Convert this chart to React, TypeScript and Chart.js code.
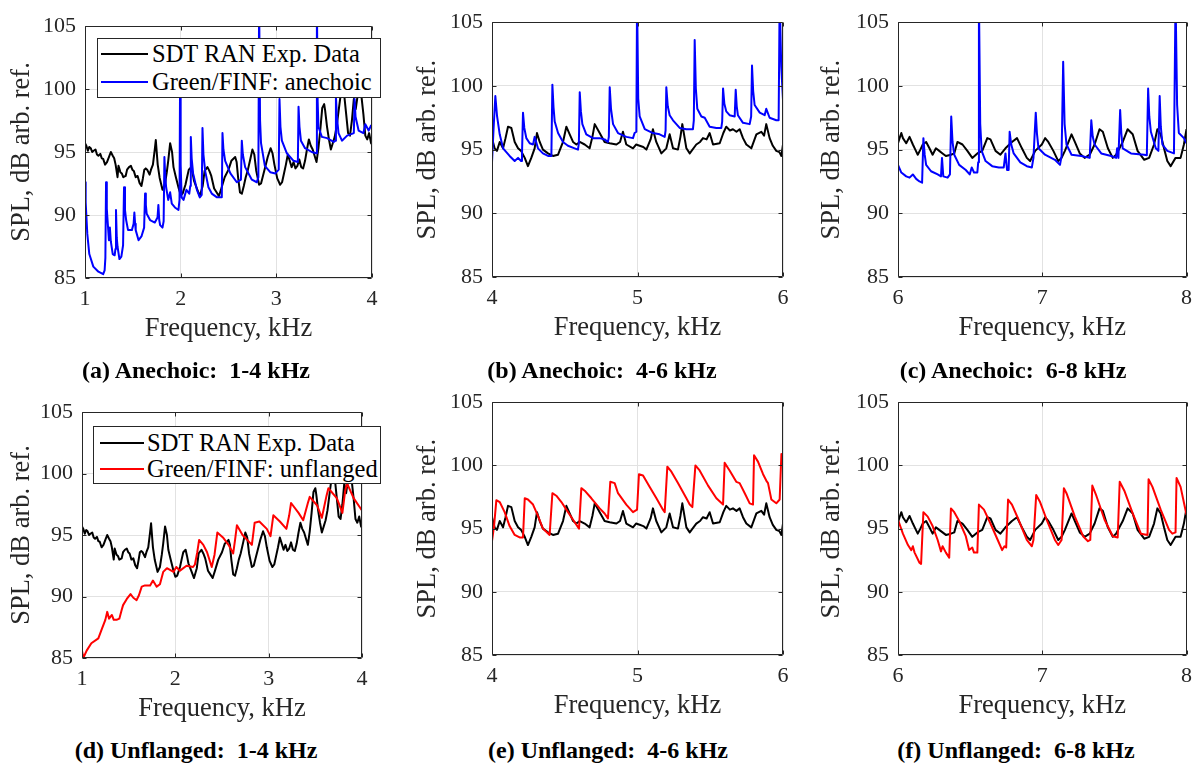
import React, { useEffect, useRef } from "react";
import { Chart, registerables } from "chart.js";

Chart.register(...registerables);

type Pt = [number, number];

// ---------- DATA (frequency kHz, SPL dB) ----------
const expLow: Pt[] = [
  [1.0, 95.7], [1.014, 95.5], [1.03, 95.1], [1.045, 95.4], [1.06, 95.3], [1.075, 95.0], [1.09, 95.1], [1.11, 95.2],
  [1.125, 94.8], [1.14, 94.7], [1.16, 94.85], [1.175, 94.5], [1.19, 94.45], [1.21, 94.0], [1.23, 94.2], [1.25, 94.6],
  [1.27, 95.0], [1.29, 94.7], [1.305, 94.5], [1.32, 94.0], [1.34, 93.0], [1.35, 93.9], [1.37, 93.4], [1.385, 93.3],
  [1.4, 93.0], [1.425, 93.1], [1.44, 93.6], [1.46, 93.8], [1.48, 93.9], [1.495, 93.6], [1.51, 93.5], [1.53, 93.0],
  [1.55, 93.1], [1.57, 92.55], [1.59, 92.3], [1.605, 92.9], [1.62, 93.6], [1.635, 93.7], [1.65, 93.6], [1.675, 93.2],
  [1.69, 93.6], [1.71, 94.0], [1.73, 95.25], [1.74, 95.95], [1.76, 94.0], [1.78, 92.96], [1.81, 92.0], [1.835, 92.4],
  [1.855, 93.4], [1.87, 94.3], [1.89, 95.7], [1.91, 95.0], [1.925, 93.8], [1.95, 93.0], [1.98, 92.1], [2.0, 91.6],
  [2.02, 91.7], [2.05, 92.4], [2.07, 93.1], [2.085, 93.6], [2.11, 93.8], [2.125, 93.3], [2.14, 92.7], [2.175, 92.0],
  [2.2, 91.5], [2.23, 92.3], [2.25, 93.5], [2.28, 93.8], [2.3, 93.5], [2.32, 93.1], [2.35, 92.1], [2.375, 91.8],
  [2.4, 91.5], [2.425, 92.1], [2.46, 93.0], [2.5, 93.6], [2.53, 94.3], [2.57, 94.6], [2.585, 94.2], [2.6, 93.0],
  [2.62, 91.8], [2.64, 91.7], [2.66, 92.3], [2.68, 93.0], [2.7, 93.5], [2.73, 94.5], [2.75, 95.2], [2.77, 94.8],
  [2.79, 93.5], [2.82, 92.4], [2.84, 92.5], [2.86, 93.1], [2.88, 93.7], [2.91, 94.6], [2.94, 95.3], [2.96, 94.9],
  [2.98, 94.0], [3.01, 92.9], [3.04, 92.4], [3.06, 92.6], [3.08, 93.3], [3.1, 94.0], [3.12, 94.8], [3.14, 94.3],
  [3.16, 93.8], [3.18, 94.2], [3.2, 93.7], [3.22, 93.9], [3.24, 94.4], [3.26, 93.8], [3.28, 93.7], [3.3, 94.3],
  [3.32, 95.2], [3.34, 96.0], [3.36, 95.5], [3.38, 95.2], [3.4, 94.7], [3.42, 94.2], [3.44, 95.3], [3.46, 96.8],
  [3.48, 98.5], [3.5, 98.8], [3.51, 98.3], [3.53, 97.0], [3.55, 96.0], [3.57, 95.2], [3.59, 95.7], [3.61, 96.2],
  [3.63, 97.0], [3.65, 98.2], [3.67, 99.4], [3.69, 100.5], [3.71, 99.5], [3.73, 98.0], [3.75, 96.5], [3.77, 96.3],
  [3.79, 97.5], [3.81, 99.2], [3.83, 98.4], [3.85, 99.5], [3.87, 100.5], [3.89, 99.4], [3.91, 98.0], [3.93, 96.3],
  [3.95, 96.0], [3.97, 96.5], [3.99, 95.7], [4.0, 95.6],
];

const anechoicLow: Pt[] = [
  [1.0, 92.6], [1.007, 91.0], [1.024, 88.5], [1.045, 86.9], [1.087, 85.9], [1.14, 85.5], [1.19, 85.3], [1.205, 85.6],
  [1.213, 86.6], [1.22, 92.6], [1.228, 90.5], [1.234, 89.8], [1.25, 88.0], [1.26, 89.0], [1.27, 87.9], [1.29, 86.9],
  [1.31, 86.8], [1.318, 87.3], [1.324, 90.4], [1.332, 88.2], [1.34, 87.5], [1.36, 86.5], [1.38, 86.7], [1.398, 87.6],
  [1.408, 92.2], [1.418, 90.4], [1.43, 89.6], [1.45, 88.8], [1.49, 88.8], [1.508, 89.3], [1.516, 90.2], [1.524, 89.3],
  [1.53, 88.8], [1.56, 88.0], [1.59, 88.3], [1.618, 89.0], [1.628, 91.7], [1.636, 90.8], [1.645, 90.1], [1.68, 89.6],
  [1.73, 89.4], [1.758, 89.8], [1.767, 90.8], [1.776, 89.6], [1.785, 89.2], [1.81, 89.0], [1.822, 89.5], [1.83, 94.6],
  [1.838, 93.2], [1.848, 92.2], [1.87, 91.2], [1.89, 91.8], [1.907, 90.9], [1.94, 90.6], [1.977, 90.4], [1.988, 91.2],
  [1.994, 101.0], [2.0, 94.0], [2.01, 91.4], [2.03, 91.2], [2.06, 92.0], [2.09, 91.7], [2.1, 92.3], [2.106, 96.2],
  [2.115, 94.5], [2.13, 93.3], [2.17, 92.0], [2.2, 91.4], [2.22, 91.6], [2.228, 96.9], [2.238, 94.8], [2.256, 93.5],
  [2.29, 92.2], [2.325, 91.7], [2.38, 91.4], [2.43, 91.4], [2.437, 96.5], [2.447, 95.2], [2.465, 94.3], [2.52, 93.3],
  [2.587, 92.6], [2.63, 92.8], [2.639, 95.9], [2.65, 94.8], [2.674, 93.8], [2.744, 92.8], [2.796, 92.6], [2.812, 93.0],
  [2.82, 107.0], [2.83, 97.5], [2.84, 95.7], [2.88, 93.9], [2.936, 93.4], [2.99, 93.3], [3.025, 93.6], [3.033, 99.2],
  [3.043, 97.0], [3.058, 95.9], [3.11, 94.9], [3.18, 94.3], [3.225, 94.2], [3.232, 98.6], [3.242, 97.0], [3.257, 95.9],
  [3.3, 95.3], [3.37, 95.0], [3.417, 94.9], [3.424, 107.0], [3.432, 99.0], [3.44, 97.0], [3.476, 96.2], [3.53, 96.1],
  [3.6, 95.8], [3.616, 95.9], [3.623, 99.4], [3.633, 97.8], [3.65, 96.5], [3.686, 95.9], [3.74, 96.3], [3.81, 96.5],
  [3.818, 99.2], [3.828, 97.8], [3.86, 96.7], [3.91, 96.5], [3.93, 97.2], [3.965, 96.7], [3.99, 97.1], [4.0, 97.1],
];

const unflangedLow: Pt[] = [
  [1.0, 85.6], [1.014, 85.0], [1.05, 85.6], [1.1, 86.2], [1.175, 86.6], [1.21, 87.3], [1.25, 88.1], [1.27, 88.75],
  [1.29, 88.2], [1.32, 88.5], [1.34, 88.1], [1.37, 88.1], [1.4, 88.2], [1.425, 88.9], [1.44, 89.3], [1.48, 89.8],
  [1.52, 90.2], [1.55, 89.9], [1.585, 89.7], [1.61, 90.1], [1.64, 90.8], [1.675, 90.9], [1.73, 90.9], [1.76, 91.3],
  [1.8, 90.8], [1.835, 91.0], [1.87, 92.0], [1.91, 92.3], [1.98, 92.0], [2.01, 92.4], [2.05, 92.1], [2.12, 92.5],
  [2.19, 92.4], [2.21, 92.6], [2.235, 93.6], [2.255, 94.6], [2.3, 94.2], [2.34, 93.6], [2.39, 92.4], [2.42, 93.4],
  [2.45, 95.2], [2.51, 94.8], [2.57, 94.2], [2.62, 93.5], [2.64, 94.6], [2.66, 95.8], [2.72, 95.0], [2.77, 94.6],
  [2.82, 94.2], [2.85, 96.0], [2.9, 96.1], [2.98, 95.5], [3.02, 94.9], [3.05, 96.6], [3.12, 96.1], [3.19, 95.5],
  [3.22, 96.6], [3.24, 97.6], [3.32, 96.8], [3.37, 96.2], [3.42, 97.6], [3.44, 98.1], [3.52, 97.4], [3.57, 96.4],
  [3.62, 98.2], [3.64, 98.8], [3.73, 98.0], [3.79, 96.8], [3.82, 98.6], [3.84, 99.2], [3.91, 98.0], [4.0, 97.0],
];

const expMid: Pt[] = [
  [4.0, 95.9], [4.018, 95.1], [4.034, 94.9], [4.053, 95.6], [4.076, 95.1], [4.093, 95.9], [4.11, 96.8], [4.133, 96.7],
  [4.156, 95.6], [4.179, 95.1], [4.2, 94.9], [4.225, 94.35], [4.247, 93.7], [4.27, 94.35], [4.293, 95.1], [4.309, 96.3],
  [4.328, 95.6], [4.35, 95.0], [4.385, 94.7], [4.419, 94.5], [4.454, 94.6], [4.488, 95.6], [4.511, 96.8], [4.534, 96.2],
  [4.557, 95.6], [4.58, 95.4], [4.603, 95.6], [4.637, 95.4], [4.671, 95.1], [4.69, 96.0], [4.706, 97.0], [4.74, 96.3],
  [4.774, 95.6], [4.809, 95.5], [4.855, 95.4], [4.88, 95.6], [4.9, 96.4], [4.923, 95.4], [4.969, 95.1], [4.99, 95.4],
  [5.015, 95.3], [5.04, 95.2], [5.061, 95.0], [5.09, 95.8], [5.106, 96.6], [5.129, 95.6], [5.164, 94.7], [5.198, 95.1],
  [5.221, 96.2], [5.244, 95.1], [5.278, 95.0], [5.295, 96.0], [5.308, 97.0], [5.336, 95.1], [5.359, 94.7], [5.404, 95.4],
  [5.43, 95.6], [5.45, 95.9], [5.475, 95.8], [5.496, 96.3], [5.519, 95.4], [5.565, 95.5], [5.59, 96.3], [5.61, 96.8],
  [5.635, 96.5], [5.656, 96.6], [5.68, 96.4], [5.702, 96.6], [5.725, 95.9], [5.748, 95.4], [5.782, 95.1], [5.817, 96.2],
  [5.851, 96.4], [5.87, 96.1], [5.885, 97.0], [5.908, 95.9], [5.93, 95.3], [5.954, 94.9], [5.975, 94.8], [5.989, 94.5],
  [6.0, 95.4],
];

const anechoicMid: Pt[] = [
  [4.0, 94.0], [4.011, 96.7], [4.023, 99.2], [4.035, 97.6], [4.053, 96.2], [4.076, 95.1], [4.121, 94.5], [4.156, 94.1],
  [4.179, 94.35], [4.2, 94.1], [4.206, 94.6], [4.213, 97.9], [4.222, 96.7], [4.236, 95.9], [4.259, 95.5], [4.282, 95.4],
  [4.293, 96.0], [4.316, 95.1], [4.35, 94.7], [4.385, 94.5], [4.408, 94.5], [4.415, 100.1], [4.423, 98.3], [4.431, 97.2],
  [4.454, 96.3], [4.488, 95.6], [4.522, 95.3], [4.568, 95.1], [4.591, 95.0], [4.597, 95.5], [4.603, 99.5], [4.611, 98.0],
  [4.621, 97.0], [4.648, 96.2], [4.694, 95.9], [4.74, 95.9], [4.774, 95.8], [4.797, 95.6], [4.803, 96.0], [4.809, 99.9],
  [4.818, 98.2], [4.832, 97.0], [4.866, 96.3], [4.923, 96.0], [4.969, 95.9], [4.98, 96.3], [4.992, 96.4], [4.997, 107.0],
  [5.005, 99.0], [5.015, 97.6], [5.05, 96.6], [5.106, 96.3], [5.152, 96.2], [5.187, 96.0], [5.193, 96.5], [5.198, 99.9],
  [5.208, 98.4], [5.221, 97.7], [5.244, 97.3], [5.29, 96.7], [5.336, 96.6], [5.381, 96.6], [5.387, 97.3], [5.393, 103.6],
  [5.401, 99.8], [5.411, 98.2], [5.439, 97.6], [5.462, 97.5], [5.496, 96.8], [5.542, 96.7], [5.576, 96.7], [5.582, 97.2],
  [5.588, 99.8], [5.597, 98.6], [5.61, 98.0], [5.633, 97.7], [5.668, 97.6], [5.675, 99.7], [5.682, 98.4], [5.69, 97.7],
  [5.725, 97.1], [5.771, 97.0], [5.781, 97.6], [5.787, 101.6], [5.795, 99.6], [5.805, 98.5], [5.84, 97.9], [5.874, 97.7],
  [5.885, 98.2], [5.908, 97.5], [5.954, 97.3], [5.97, 97.3], [5.977, 107.0], [5.988, 101.5], [6.0, 98.9],
];

const unflangedMid: Pt[] = [
  [4.0, 94.0], [4.014, 95.2], [4.03, 97.25], [4.053, 97.1], [4.087, 96.3], [4.121, 95.2], [4.156, 94.5], [4.19, 94.3],
  [4.213, 94.3], [4.225, 97.4], [4.247, 97.3], [4.282, 96.9], [4.316, 96.0], [4.35, 95.0], [4.396, 94.5], [4.415, 97.8],
  [4.442, 97.6], [4.477, 97.1], [4.511, 96.5], [4.557, 95.7], [4.598, 95.0], [4.614, 98.2], [4.637, 98.0], [4.683, 97.4],
  [4.74, 96.6], [4.774, 96.2], [4.797, 95.8], [4.813, 98.7], [4.843, 98.6], [4.866, 97.8], [4.923, 96.9], [4.969, 96.3],
  [4.997, 96.5], [5.01, 99.3], [5.038, 99.2], [5.084, 98.3], [5.13, 97.4], [5.175, 96.5], [5.187, 96.3], [5.205, 99.9],
  [5.233, 99.5], [5.278, 98.6], [5.336, 97.4], [5.359, 96.9], [5.377, 96.7], [5.398, 100.0], [5.427, 99.6], [5.485, 98.4],
  [5.542, 97.4], [5.588, 96.9], [5.599, 100.2], [5.633, 99.6], [5.679, 98.7], [5.702, 98.6], [5.737, 97.8], [5.771, 97.0],
  [5.794, 96.9], [5.801, 100.8], [5.828, 100.3], [5.863, 99.3], [5.885, 98.8], [5.897, 98.6], [5.92, 97.3], [5.954, 97.0],
  [5.977, 97.3], [5.989, 100.9], [6.0, 100.8],
];

const expHigh: Pt[] = [
  [6.0, 95.5], [6.011, 95.9], [6.023, 96.3], [6.034, 95.9], [6.057, 95.5], [6.08, 96.0], [6.103, 95.4], [6.12, 95.0],
  [6.137, 94.6], [6.155, 95.0], [6.172, 95.4], [6.195, 95.6], [6.218, 95.1], [6.24, 94.6], [6.263, 95.1], [6.286, 94.9],
  [6.309, 94.7], [6.332, 94.5], [6.367, 94.6], [6.39, 94.7], [6.412, 95.6], [6.447, 95.4], [6.481, 94.9], [6.515, 94.35],
  [6.55, 94.7], [6.584, 94.9], [6.619, 95.9], [6.641, 95.8], [6.676, 94.9], [6.71, 94.6], [6.745, 95.1], [6.79, 95.6],
  [6.825, 95.9], [6.859, 95.1], [6.893, 94.35], [6.916, 94.1], [6.951, 94.9], [6.997, 95.4], [7.02, 95.9], [7.042, 95.6],
  [7.077, 94.9], [7.111, 94.1], [7.134, 94.35], [7.157, 94.9], [7.203, 96.2], [7.226, 95.6], [7.26, 94.7], [7.294, 94.35],
  [7.329, 94.6], [7.363, 95.4], [7.397, 96.6], [7.42, 96.4], [7.455, 95.1], [7.489, 94.35], [7.512, 94.6], [7.558, 95.6],
  [7.592, 96.6], [7.627, 96.2], [7.661, 94.9], [7.707, 94.2], [7.741, 94.35], [7.775, 95.4], [7.798, 96.6], [7.821, 96.2],
  [7.844, 95.1], [7.867, 94.1], [7.89, 93.7], [7.924, 94.35], [7.959, 94.35], [7.982, 95.4], [8.0, 96.6],
];

const anechoicHigh: Pt[] = [
  [6.0, 93.8], [6.023, 93.2], [6.057, 92.9], [6.08, 92.8], [6.103, 93.05], [6.126, 92.7], [6.149, 92.5], [6.167, 92.4],
  [6.176, 95.9], [6.185, 94.6], [6.195, 93.8], [6.229, 93.3], [6.275, 93.05], [6.298, 92.9], [6.305, 94.35], [6.314, 92.9],
  [6.344, 92.8], [6.36, 93.05], [6.369, 97.6], [6.378, 95.6], [6.39, 94.6], [6.424, 93.8], [6.47, 93.4], [6.497, 93.05],
  [6.511, 93.6], [6.527, 93.2], [6.55, 93.2], [6.556, 94.0], [6.561, 107.0], [6.57, 97.0], [6.58, 94.9], [6.607, 94.1],
  [6.653, 93.7], [6.699, 93.6], [6.733, 93.6], [6.745, 94.7], [6.756, 93.4], [6.767, 93.4], [6.774, 96.4], [6.785, 95.4],
  [6.802, 94.7], [6.848, 94.0], [6.893, 93.7], [6.928, 93.6], [6.939, 94.35], [6.955, 97.9], [6.963, 96.3], [6.974, 95.1],
  [7.019, 94.6], [7.088, 94.2], [7.123, 93.8], [7.134, 94.5], [7.145, 101.9], [7.155, 97.0], [7.168, 95.4], [7.203, 94.6],
  [7.271, 94.5], [7.329, 94.35], [7.34, 97.3], [7.35, 96.0], [7.363, 95.4], [7.409, 94.7], [7.478, 94.5], [7.512, 94.35],
  [7.519, 95.1], [7.528, 94.35], [7.54, 98.1], [7.548, 96.3], [7.558, 95.1], [7.615, 94.7], [7.707, 94.6], [7.725, 94.55],
  [7.734, 99.8], [7.742, 97.6], [7.753, 96.4], [7.787, 95.1], [7.805, 94.9], [7.814, 99.2], [7.822, 96.8], [7.833, 95.4],
  [7.867, 94.9], [7.913, 94.7], [7.924, 107.0], [7.935, 98.5], [7.947, 96.3], [7.982, 95.9], [8.0, 95.5],
];

const unflangedHigh: Pt[] = [
  [6.0, 95.7], [6.034, 94.6], [6.069, 93.7], [6.092, 93.3], [6.103, 93.6], [6.115, 93.1], [6.149, 92.3], [6.16, 92.2],
  [6.176, 96.3], [6.206, 95.95], [6.24, 95.2], [6.275, 94.1], [6.298, 93.2], [6.309, 93.6], [6.332, 93.1], [6.355, 92.7],
  [6.367, 96.6], [6.39, 96.3], [6.424, 95.6], [6.47, 94.4], [6.493, 93.3], [6.515, 93.5], [6.527, 93.1], [6.55, 93.1],
  [6.561, 96.9], [6.596, 96.5], [6.641, 95.4], [6.699, 93.9], [6.722, 93.3], [6.738, 93.6], [6.75, 93.5], [6.763, 97.3],
  [6.79, 96.9], [6.836, 95.7], [6.893, 94.1], [6.928, 93.6], [6.939, 94.1], [6.958, 97.65], [6.985, 97.1], [7.031, 95.7],
  [7.088, 94.1], [7.111, 93.7], [7.134, 94.1], [7.15, 98.2], [7.168, 97.8], [7.226, 95.95], [7.283, 94.4], [7.317, 94.0],
  [7.333, 94.1], [7.347, 98.4], [7.375, 97.6], [7.432, 95.7], [7.489, 94.4], [7.523, 94.3], [7.537, 98.7], [7.569, 98.0],
  [7.627, 96.2], [7.684, 94.6], [7.73, 94.5], [7.737, 98.9], [7.764, 98.3], [7.821, 96.5], [7.879, 94.9], [7.902, 94.6],
  [7.924, 94.7], [7.931, 99.0], [7.959, 98.3], [8.0, 96.1],
];

const yTickValues = [85, 90, 95, 100, 105];
const xTicksLow = [1, 2, 3, 4];
const xTicksMid = [4, 5, 6];
const xTicksHigh = [6, 7, 8];

const expLabel = "SDT RAN Exp. Data";
const anechoicLabel = "Green/FINF: anechoic";
const unflangedLabel = "Green/FINF: unflanged";
const xTitle = "Frequency, kHz";
const yTitle = "SPL, dB arb. ref.";

// ---------- STYLE / LAYOUT ----------
const AXIS = "#262626";
const GRID = "#e2e2e2";
const SERIF = "'Liberation Serif', 'Times New Roman', serif";
const TICK_FONT = { family: SERIF, size: 22 };
const TITLE_SIZE = 26.5;
const TITLE_FONT = { family: SERIF, size: TITLE_SIZE };
const TITLE_LH = TITLE_SIZE * 1.2;
const X_SCALE_H = 51 + TITLE_LH / 2;
const CANVAS_W = 400;
const CANVAS_H = 350;

type LegendCfg = {
  left: number; top: number; width: number; height: number;
  sampleLeft: number; sampleWidth: number; textLeft: number; rows: number[];
};

type PanelCfg = {
  key: string;
  exp: Pt[];
  model: Pt[];
  modelColor: string;
  modelLabel: string;
  xMin: number; xMax: number; xTicks: number[];
  cx: number; cy: number;
  area: { l: number; t: number; r: number; b: number };
  yTitleCenter: number;
  caption: string; capX: number; capY: number;
  legend?: LegendCfg;
};

const panels: PanelCfg[] = [
  {
    key: "a", exp: expLow, model: anechoicLow, modelColor: "#0000ff", modelLabel: anechoicLabel,
    xMin: 1, xMax: 4, xTicks: xTicksLow, cx: 0, cy: 0,
    area: { l: 85, t: 26, r: 372, b: 278 }, yTitleCenter: 22,
    caption: "(a) Anechoic:  1-4 kHz", capX: 196, capY: 370,
    legend: { left: 97, top: 38, width: 284, height: 60, sampleLeft: 3, sampleWidth: 47, textLeft: 54, rows: [15, 43] },
  },
  {
    key: "b", exp: expMid, model: anechoicMid, modelColor: "#0000ff", modelLabel: anechoicLabel,
    xMin: 4, xMax: 6, xTicks: xTicksMid, cx: 400, cy: 0,
    area: { l: 92, t: 20, r: 383, b: 277 }, yTitleCenter: 28,
    caption: "(b) Anechoic:  4-6 kHz", capX: 602, capY: 370,
  },
  {
    key: "c", exp: expHigh, model: anechoicHigh, modelColor: "#0000ff", modelLabel: anechoicLabel,
    xMin: 6, xMax: 8, xTicks: xTicksHigh, cx: 800, cy: 0,
    area: { l: 98, t: 20, r: 389, b: 277 }, yTitleCenter: 32,
    caption: "(c) Anechoic:  6-8 kHz", capX: 1013, capY: 370,
  },
  {
    key: "d", exp: expLow, model: unflangedLow, modelColor: "#ff0000", modelLabel: unflangedLabel,
    xMin: 1, xMax: 4, xTicks: xTicksLow, cx: 0, cy: 380,
    area: { l: 82, t: 32, r: 362, b: 278 }, yTitleCenter: 22,
    caption: "(d) Unflanged:  1-4 kHz", capX: 196, capY: 750,
    legend: { left: 93, top: 426, width: 288, height: 58, sampleLeft: 6, sampleWidth: 44, textLeft: 53, rows: [16, 42] },
  },
  {
    key: "e", exp: expMid, model: unflangedMid, modelColor: "#ff0000", modelLabel: unflangedLabel,
    xMin: 4, xMax: 6, xTicks: xTicksMid, cx: 400, cy: 380,
    area: { l: 92, t: 19, r: 383, b: 275 }, yTitleCenter: 28,
    caption: "(e) Unflanged:  4-6 kHz", capX: 608, capY: 750,
  },
  {
    key: "f", exp: expHigh, model: unflangedHigh, modelColor: "#ff0000", modelLabel: unflangedLabel,
    xMin: 6, xMax: 8, xTicks: xTicksHigh, cx: 800, cy: 380,
    area: { l: 98, t: 19, r: 389, b: 275 }, yTitleCenter: 32,
    caption: "(f) Unflanged:  6-8 kHz", capX: 1016, capY: 750,
  },
];

const TICK_LEN = 4;
const boxPlugin = {
  id: "matlabBox",
  afterDraw(chart: any) {
    const { ctx, chartArea, scales } = chart;
    const xs = scales.x;
    const ys = scales.y;
    const L = Math.round(chartArea.left) + 0.5;
    const R = Math.round(chartArea.right) - 0.5;
    const T = Math.round(chartArea.top) + 0.5;
    const B = Math.round(chartArea.bottom) - 0.5;
    ctx.save();
    ctx.strokeStyle = AXIS;
    ctx.lineWidth = 1;
    ctx.beginPath();
    ctx.rect(L, T, R - L, B - T);
    for (const t of xs.ticks) {
      const px = Math.round(xs.getPixelForValue(t.value)) + 0.5;
      ctx.moveTo(px, B); ctx.lineTo(px, B - TICK_LEN);
      ctx.moveTo(px, T); ctx.lineTo(px, T + TICK_LEN);
    }
    for (const t of ys.ticks) {
      const py = Math.round(ys.getPixelForValue(t.value)) + 0.5;
      ctx.moveTo(L, py); ctx.lineTo(L + TICK_LEN, py);
      ctx.moveTo(R, py); ctx.lineTo(R - TICK_LEN, py);
    }
    ctx.stroke();
    ctx.restore();
  },
};

function toXY(pts: Pt[]) {
  return pts.map(([x, y]) => ({ x, y }));
}

function Panel({ cfg }: { cfg: PanelCfg }) {
  const ref = useRef<HTMLCanvasElement>(null);
  useEffect(() => {
    const canvas = ref.current;
    if (!canvas) return;
    const { area } = cfg;
    const padBottom = CANVAS_H - area.b - X_SCALE_H;
    const chart = new Chart(canvas, {
      type: "line",
      data: {
        datasets: [
          {
            label: expLabel,
            data: toXY(cfg.exp),
            borderColor: "#000000",
            borderWidth: 2,
            pointRadius: 0,
            tension: 0,
            borderJoinStyle: "round",
            order: 2,
          },
          {
            label: cfg.modelLabel,
            data: toXY(cfg.model),
            borderColor: cfg.modelColor,
            borderWidth: 2,
            pointRadius: 0,
            tension: 0,
            borderJoinStyle: "round",
            order: 1,
          },
        ],
      },
      options: {
        animation: false,
        responsive: false,
        devicePixelRatio: 1,
        events: [],
        layout: { padding: { left: 0, top: area.t, right: CANVAS_W - area.r, bottom: padBottom } },
        plugins: { legend: { display: false }, tooltip: { enabled: false } },
        scales: {
          x: {
            type: "linear",
            min: cfg.xMin,
            max: cfg.xMax,
            afterBuildTicks: (s: any) => { s.ticks = cfg.xTicks.map((v) => ({ value: v })); },
            afterFit: (s: any) => { s.height = X_SCALE_H; },
            grid: { color: GRID, lineWidth: 1, drawTicks: false },
            border: { display: false },
            ticks: {
              font: TICK_FONT, color: AXIS, padding: 8, maxRotation: 0, autoSkip: false,
              callback: (v: any) => String(v),
            },
            title: { display: true, text: xTitle, font: TITLE_FONT, color: AXIS, padding: { top: 0, bottom: 0 } },
          },
          y: {
            type: "linear",
            min: 85,
            max: 105,
            afterBuildTicks: (s: any) => { s.ticks = yTickValues.map((v) => ({ value: v })); },
            afterFit: (s: any) => { s.width = area.l; },
            grid: { color: GRID, lineWidth: 1, drawTicks: false },
            border: { display: false },
            ticks: {
              font: TICK_FONT, color: AXIS, padding: 9, autoSkip: false,
              callback: (v: any) => String(v),
            },
            title: {
              display: true, text: yTitle, font: TITLE_FONT, color: AXIS,
              padding: { top: cfg.yTitleCenter - TITLE_LH / 2, bottom: 0 },
            },
          },
        },
      } as any,
      plugins: [boxPlugin],
    });
    return () => chart.destroy();
  }, [cfg]);

  return (
    <canvas
      ref={ref}
      width={CANVAS_W}
      height={CANVAS_H}
      style={{ position: "absolute", left: cfg.cx, top: cfg.cy, width: CANVAS_W, height: CANVAS_H }}
    />
  );
}

function Legend({ cfg }: { cfg: PanelCfg }) {
  const lg = cfg.legend!;
  const items = [
    { label: expLabel, color: "#000000" },
    { label: cfg.modelLabel, color: cfg.modelColor },
  ];
  return (
    <div
      style={{
        position: "absolute", left: lg.left, top: lg.top, width: lg.width, height: lg.height,
        boxSizing: "border-box", border: `1px solid ${AXIS}`, background: "#ffffff",
      }}
    >
      {items.map((it, i) => (
        <React.Fragment key={i}>
          <div
            style={{
              position: "absolute", left: lg.sampleLeft, top: lg.rows[i] - 1,
              width: lg.sampleWidth, height: 2, background: it.color,
            }}
          />
          <div
            style={{
              position: "absolute", left: lg.textLeft, top: lg.rows[i], transform: "translateY(-50%)",
              fontFamily: SERIF, fontSize: 24.5, lineHeight: "28px", color: "#000", whiteSpace: "nowrap",
            }}
          >
            {it.label}
          </div>
        </React.Fragment>
      ))}
    </div>
  );
}

export default function App() {
  return (
    <div style={{ position: "absolute", left: 0, top: 0, width: 1200, height: 764, background: "#ffffff", overflow: "hidden" }}>
      {panels.map((p) => (
        <Panel key={p.key} cfg={p} />
      ))}
      {panels.filter((p) => p.legend).map((p) => (
        <Legend key={"lg" + p.key} cfg={p} />
      ))}
      {panels.map((p) => (
        <div
          key={"cap" + p.key}
          style={{
            position: "absolute", left: p.capX, top: p.capY, transform: "translate(-50%, -50%)",
            fontFamily: SERIF, fontWeight: "bold", fontSize: 24, lineHeight: "28px", color: "#000",
            whiteSpace: "pre",
          }}
        >
          {p.caption}
        </div>
      ))}
    </div>
  );
}
